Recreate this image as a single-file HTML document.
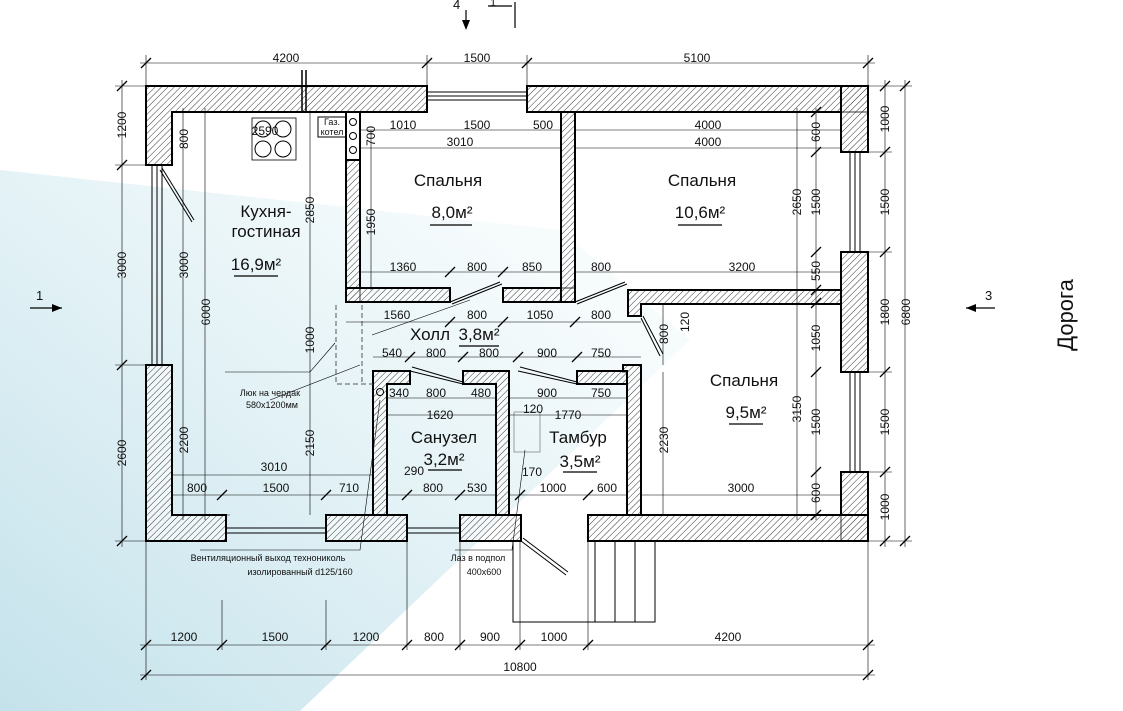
<!DOCTYPE html>
<html><head><meta charset="utf-8"><style>
html,body{margin:0;padding:0;background:#fff}
svg{display:block}
text{font-family:"Liberation Sans",sans-serif;fill:#111}
.d{font-size:12px;text-anchor:middle}
.r{font-size:17px;text-anchor:middle}
.s{font-size:9px;text-anchor:middle}
</style></head><body>
<svg width="1123" height="711" viewBox="0 0 1123 711" xmlns="http://www.w3.org/2000/svg">
<defs>
<pattern id="h" width="4.5" height="4.5" patternUnits="userSpaceOnUse" patternTransform="rotate(45)">
<rect width="5" height="5" fill="#fff" fill-opacity="0.6"/><line x1="0" y1="0" x2="0" y2="5" stroke="#222" stroke-width="0.9"/></pattern>
<linearGradient id="g" x1="0" y1="1" x2="0.8" y2="0.2">
<stop offset="0" stop-color="#c4e2eb"/><stop offset="0.6" stop-color="#e3f2f6"/><stop offset="1" stop-color="#f6fbfc"/></linearGradient>
</defs>
<polygon points="0,170 560,230 690,340 300,711 0,711" fill="url(#g)"/>

<g stroke="#000" stroke-width="2" fill="url(#h)">
<path d="M146,86 H427 V112 H172 V165 H146 Z"/>
<rect x="527" y="86" width="341" height="26"/>
<rect x="841" y="86" width="27" height="66"/>
<rect x="841" y="252" width="27" height="120"/>
<rect x="841" y="472" width="27" height="69"/>
<path d="M146,365 H172 V515 H226 V541 H146 Z"/>
<rect x="326" y="515" width="81" height="26"/>
<rect x="460" y="515" width="61" height="26"/>
<rect x="588" y="515" width="280" height="26"/>
<rect x="346" y="112" width="14" height="48" fill="#fff"/>
<rect x="346" y="160" width="14" height="142"/>
<rect x="346" y="288" width="104" height="14"/>
<rect x="503" y="288" width="72" height="14"/>
<rect x="561" y="112" width="14" height="190"/>
<path d="M628,290 H841 V304 H641 V316 H628 Z"/>
<path d="M623,365 H641 V515 H627 V372 H623 Z"/>
<path d="M373,371 H410 V384 H387 V515 H373 Z"/>
<path d="M463,371 H509 V515 H496 V384 H463 Z"/>
<rect x="577" y="371" width="50" height="13"/>
</g>
<g stroke="#000" stroke-width="1" fill="none">
<path d="M427,92 H527 M427,96 H527 M427,100 H527"/>
<path d="M152,165 V365 M157,165 V365 M162,165 V365"/>
<path d="M850,152 V252 M855,152 V252 M860,152 V252"/>
<path d="M850,372 V472 M855,372 V472 M860,372 V472"/>
<path d="M226,528 H326 M226,533 H326 M407,528 H460 M407,533 H460"/>
<path d="M450,302 L500,282 M452,304 L502,284"/>
<path d="M575,302 L625,282 M577,304 L627,284"/>
<path d="M641,318 L660,356 M643,316 L663,354"/>
<path d="M410,371 L463,384 M412,367 L463,382"/>
<path d="M518,371 L577,384 M520,367 L577,382"/>
<path d="M521,541 L566,575 M523,538 L568,572"/>
<path d="M160,170 L192,222 M162,168 L194,220"/>
<rect x="252" y="118" width="44" height="42" stroke-width="0.8"/>
<circle cx="263" cy="129" r="8"/><circle cx="283" cy="129" r="8"/>
<circle cx="263" cy="149" r="8"/><circle cx="283" cy="149" r="8"/>
<rect x="318" y="117" width="28" height="20"/>
<rect x="346" y="112" width="14" height="48"/>
<circle cx="353" cy="122" r="3.5"/><circle cx="353" cy="136" r="3.5"/><circle cx="353" cy="150" r="3.5"/>
<circle cx="380" cy="392" r="3.5"/>
<path d="M302,70 V112 M306,70 V112" stroke-width="1.5"/>
<path d="M513,541 V622 H655 V541 M595,541 V622 M615,541 V622 M635,541 V622"/>
<path d="M336,305 V384 H373 M362,305 V384" stroke-dasharray="5,3" stroke="#555"/>
<rect x="514" y="412" width="26" height="40" stroke="#777" stroke-width="0.7"/>
</g>

<g stroke="#000" stroke-width="0.6" fill="none">
<path d="M140,63 H875 M146,55 V86 M427,55 V86 M527,55 V86 M868,55 V86"/>
<path d="M140,645 H875 M140,675 H875 M146,541 V680 M222,600 V650 M326,600 V650 M407,541 V650 M460,541 V650 M520,541 V650 M588,541 V650 M868,541 V680"/>
<path d="M122,80 V547 M115,86 H146 M115,165 H146 M115,365 H146 M115,541 H146"/>
<path d="M183,108 V520 M205,108 V520 M172,515 H230"/>
<path d="M885,80 V547 M905,80 V547 M868,86 H912 M868,152 H892 M868,252 H892 M868,372 H892 M868,472 H892 M868,541 H912"/>
<path d="M816,108 V520 M797,108 V520 M575,130 H841 M575,148 H841 M575,272 H841 M641,495 H841"/>
<path d="M360,130 H561 M360,148 H561 M360,272 H561 M346,322 H641 M373,357 H641 M387,398 H496 M387,415 H496 M509,398 H627 M509,415 H627 M172,475 H373 M172,495 H373 M387,495 H496 M509,495 H627"/>
<path d="M310,305 V372 M371,130 V290 M310,112 V305 M310,372 V515 M663,303 V365 M663,372 V515"/>
<path d="M372,335 L470,300 M335,343 L310,372 L225,372 M270,400 L360,365 M200,550 L360,550 L380,400 M455,550 L512,550 L525,450"/>
</g>
<g stroke="#000" stroke-width="1.3">
<path d="M141,68 l10,-10 M422,68 l10,-10 M522,68 l10,-10 M863,68 l10,-10 M141,650 l10,-10 M217,650 l10,-10 M321,650 l10,-10 M402,650 l10,-10 M455,650 l10,-10 M515,650 l10,-10 M583,650 l10,-10 M863,650 l10,-10 M141,680 l10,-10 M863,680 l10,-10 M117,91 l10,-10 M117,170 l10,-10 M117,370 l10,-10 M117,546 l10,-10 M880,91 l10,-10 M880,157 l10,-10 M880,257 l10,-10 M880,377 l10,-10 M880,477 l10,-10 M880,546 l10,-10 M900,91 l10,-10 M900,546 l10,-10 M811,117 l10,-10 M811,157 l10,-10 M811,257 l10,-10 M811,295 l10,-10 M811,308 l10,-10 M811,377 l10,-10 M811,477 l10,-10 M811,520 l10,-10 M445,277 l10,-10 M498,277 l10,-10 M445,327 l10,-10 M498,327 l10,-10 M570,327 l10,-10 M405,362 l10,-10 M458,362 l10,-10 M513,362 l10,-10 M572,362 l10,-10 M217,500 l10,-10 M321,500 l10,-10 M402,500 l10,-10 M455,500 l10,-10 M515,500 l10,-10 M583,500 l10,-10"/>
</g>

<g class="d">
<text x="286" y="62">4200</text><text x="477" y="62">1500</text><text x="697" y="62">5100</text>
<text x="184" y="641">1200</text><text x="275" y="641">1500</text><text x="366" y="641">1200</text><text x="434" y="641">800</text><text x="490" y="641">900</text><text x="554" y="641">1000</text><text x="728" y="641">4200</text>
<text x="520" y="671">10800</text>
<text x="403" y="129">1010</text><text x="477" y="129">1500</text><text x="543" y="129">500</text><text x="460" y="146">3010</text>
<text x="708" y="129">4000</text><text x="708" y="146">4000</text>
<text x="265" y="135">2590</text>
<text x="403" y="271">1360</text><text x="477" y="271">800</text><text x="532" y="271">850</text><text x="601" y="271">800</text><text x="742" y="271">3200</text>
<text x="397" y="319">1560</text><text x="477" y="319">800</text><text x="540" y="319">1050</text><text x="601" y="319">800</text>
<text x="392" y="357">540</text><text x="436" y="357">800</text><text x="489" y="357">800</text><text x="547" y="357">900</text><text x="601" y="357">750</text>
<text x="399" y="397">340</text><text x="436" y="397">800</text><text x="481" y="397">480</text><text x="547" y="397">900</text><text x="601" y="397">750</text>
<text x="440" y="419">1620</text><text x="568" y="419">1770</text><text x="533" y="413">120</text>
<text x="274" y="471">3010</text><text x="414" y="475">290</text><text x="532" y="476">170</text>
<text x="197" y="492">800</text><text x="276" y="492">1500</text><text x="349" y="492">710</text><text x="433" y="492">800</text><text x="477" y="492">530</text><text x="553" y="492">1000</text><text x="607" y="492">600</text><text x="741" y="492">3000</text>
</g>
<g class="d">
<text transform="translate(126,125) rotate(-90)">1200</text>
<text transform="translate(126,265) rotate(-90)">3000</text>
<text transform="translate(126,453) rotate(-90)">2600</text>
<text transform="translate(188,139) rotate(-90)">800</text>
<text transform="translate(188,265) rotate(-90)">3000</text>
<text transform="translate(188,440) rotate(-90)">2200</text>
<text transform="translate(210,312) rotate(-90)">6000</text>
<text transform="translate(314,210) rotate(-90)">2850</text>
<text transform="translate(314,340) rotate(-90)">1000</text>
<text transform="translate(314,443) rotate(-90)">2150</text>
<text transform="translate(375,222) rotate(-90)">1950</text>
<text transform="translate(375,136) rotate(-90)">700</text>
<text transform="translate(668,334) rotate(-90)">800</text>
<text transform="translate(689,322) rotate(-90)">120</text>
<text transform="translate(668,440) rotate(-90)">2230</text>
<text transform="translate(801,202) rotate(-90)">2650</text>
<text transform="translate(801,409) rotate(-90)">3150</text>
<text transform="translate(820,132) rotate(-90)">600</text>
<text transform="translate(820,202) rotate(-90)">1500</text>
<text transform="translate(820,271) rotate(-90)">550</text>
<text transform="translate(820,338) rotate(-90)">1050</text>
<text transform="translate(820,422) rotate(-90)">1500</text>
<text transform="translate(820,493) rotate(-90)">600</text>
<text transform="translate(889,119) rotate(-90)">1000</text>
<text transform="translate(889,202) rotate(-90)">1500</text>
<text transform="translate(889,312) rotate(-90)">1800</text>
<text transform="translate(889,422) rotate(-90)">1500</text>
<text transform="translate(889,507) rotate(-90)">1000</text>
<text transform="translate(910,312) rotate(-90)">6800</text>
</g>
<g class="r">
<text x="266" y="217">Кухня-</text><text x="266" y="237">гостиная</text>
<text x="256" y="270">16,9м²</text>
<text x="448" y="186">Спальня</text><text x="452" y="218">8,0м²</text>
<text x="702" y="186">Спальня</text><text x="700" y="218">10,6м²</text>
<text x="744" y="386">Спальня</text><text x="746" y="418">9,5м²</text>
<text x="430" y="340">Холл</text><text x="479" y="340">3,8м²</text>
<text x="444" y="443">Санузел</text><text x="444" y="465">3,2м²</text>
<text x="578" y="443">Тамбур</text><text x="580" y="467">3,5м²</text>
</g>
<g stroke="#000" stroke-width="1.2">
<path d="M234,276 H278 M430,225 H472 M678,225 H722 M729,424 H763 M459,346 H499 M428,470 H462 M563,472 H597"/>
</g>
<g class="s">
<text x="332" y="125">Газ.</text><text x="332" y="135">котел</text>
<text x="270" y="396">Люк на чердак</text><text x="272" y="408">580х1200мм</text>
<text x="268" y="561">Вентиляционный выход технониколь</text>
<text x="300" y="575">изолированный d125/160</text>
<text x="478" y="561">Лаз в подпол</text><text x="484" y="575">400х600</text>
</g>
<g stroke="#000" stroke-width="1.2">
<path d="M30,308 H62 M966,308 H995 M466,10 V28 M488,6 H512 M515,2 V28"/>
</g>
<polygon points="62,308 52,304 52,312" fill="#000"/>
<polygon points="966,308 976,304 976,312" fill="#000"/>
<polygon points="466,30 462,20 470,20" fill="#000"/>
<text x="36" y="300" style="font-size:13px">1</text>
<text x="985" y="300" style="font-size:13px">3</text>
<text x="453" y="9" style="font-size:13px">4</text>
<text x="490" y="6" style="font-size:11px">1</text>
<text transform="translate(1073,315) rotate(-90)" style="font-size:22px;text-anchor:middle">Дорога</text>
</svg>
</body></html>
